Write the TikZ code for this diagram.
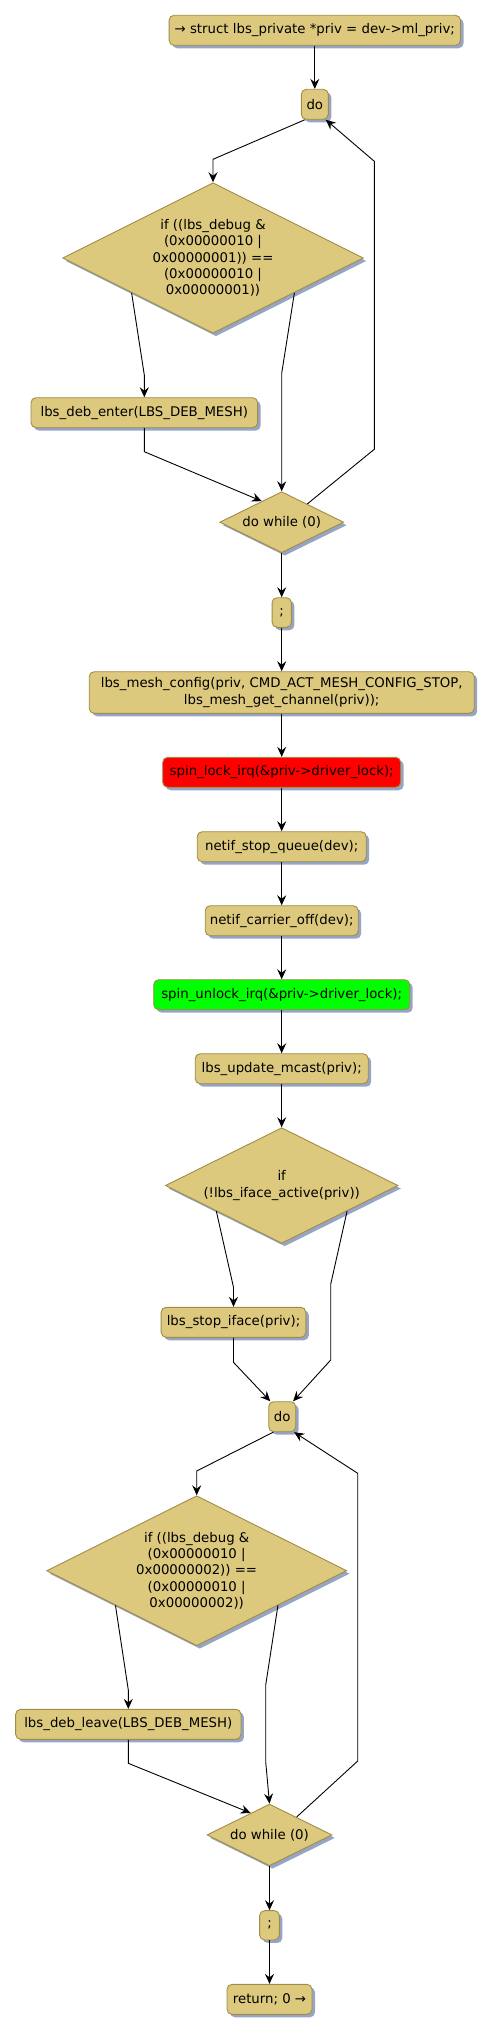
\documentclass[tikz,border=0pt]{standalone}
\usepackage{fontspec}
\setmainfont{DejaVu Sans}
\usetikzlibrary{shapes.geometric,arrows.meta,shadows,calc}
\definecolor{boxfill}{RGB}{220,201,126}
\definecolor{boxline}{RGB}{160,140,72}
\definecolor{shc}{RGB}{150,165,196}
\definecolor{lockred}{RGB}{255,0,0}
\definecolor{lockgreen}{RGB}{0,255,0}
\begin{document}
\begin{tikzpicture}[x=1pt,y=-1pt,
  font=\fontsize{13.3}{16.3}\selectfont,
  shd/.style={drop shadow={shadow xshift=3pt,shadow yshift=-3pt,fill=shc,opacity=1}},
  box/.style={draw=boxline,fill=boxfill,rounded corners=5pt,line width=0.9pt,inner sep=0pt,align=center,shd},
  dia/.style={diamond,aspect=2,draw=boxline,fill=boxfill,line width=0.9pt,inner sep=0pt,align=center,shd},
  flow/.style={-{Stealth[length=10pt,width=9pt,inset=3.5pt]},line width=0.9pt,line join=miter}]
\useasboundingbox (0,0) rectangle (493,2033);

\node[box,minimum width=291.4pt,minimum height=30pt] (top) at (314.8,30.3) {→ struct lbs\_private *priv = dev->ml\_priv;};
\node[box,minimum width=27pt,minimum height=30pt] (do1) at (314.8,104.3) {do};
\node[dia,minimum width=300.6pt,minimum height=150.6pt] (d1) at (213,258) {if ((lbs\_debug \&\\(0x00000010 |\\0x00000001)) ==\\(0x00000010 |\\0x00000001))};
\node[box,minimum width=226.6pt,minimum height=30pt] (enter) at (144.3,412.7) {lbs\_deb\_enter(LBS\_DEB\_MESH)};
\node[dia,minimum width=124pt,minimum height=61pt] (dw1) at (281.7,522.2) {do while (0)};
\node[box,minimum width=19.3pt,minimum height=29.6pt] (semi1) at (281.7,612.5) {;};
\node[box,minimum width=385pt,minimum height=41.6pt] (mesh) at (281.7,692.5) {lbs\_mesh\_config(priv, CMD\_ACT\_MESH\_CONFIG\_STOP,\\lbs\_mesh\_get\_channel(priv));};
\node[box,fill=lockred,minimum width=238pt,minimum height=30pt] (lock) at (281.7,772.3) {spin\_lock\_irq(\&priv->driver\_lock);};
\node[box,minimum width=169pt,minimum height=30pt] (stopq) at (281.7,846.7) {netif\_stop\_queue(dev);};
\node[box,minimum width=153pt,minimum height=30pt] (carrier) at (281.7,920.7) {netif\_carrier\_off(dev);};
\node[box,fill=lockgreen,minimum width=256pt,minimum height=30pt] (unlock) at (281.7,994.7) {spin\_unlock\_irq(\&priv->driver\_lock);};
\node[box,minimum width=173pt,minimum height=30pt] (mcast) at (281.7,1068.7) {lbs\_update\_mcast(priv);};
\node[dia,minimum width=232.6pt,minimum height=115.6pt] (d3) at (281.7,1185.5) {if\\(!lbs\_iface\_active(priv))};
\node[box,minimum width=144.7pt,minimum height=30pt] (stopif) at (233.5,1322.3) {lbs\_stop\_iface(priv);};
\node[box,minimum width=27pt,minimum height=30pt] (do2) at (282.2,1416.7) {do};
\node[dia,minimum width=300pt,minimum height=150pt] (d4) at (196.7,1570.7) {if ((lbs\_debug \&\\(0x00000010 |\\0x00000002)) ==\\(0x00000010 |\\0x00000002))};
\node[box,minimum width=225.3pt,minimum height=30pt] (leave) at (128.3,1724.3) {lbs\_deb\_leave(LBS\_DEB\_MESH)};
\node[dia,minimum width=125pt,minimum height=61.7pt] (dw2) at (269.5,1834.9) {do while (0)};
\node[box,minimum width=19.7pt,minimum height=29.3pt] (semi2) at (269.5,1925.3) {;};
\node[box,minimum width=85pt,minimum height=30pt] (ret) at (269.5,1999.3) {return; 0 →};

% first loop
\draw[flow] (top.south) -- (do1.north);
\draw[flow] ([xshift=4pt]do1.south west) -- (213,159.3) -- (d1.north);
\draw[flow] ($(d1.west)!0.46!(d1.south)$) -- (144.3,375) -- (enter.north);
\draw[flow] ($(d1.east)!0.46!(d1.south)$) -- (281.7,373.3) -- (dw1.north);
\draw[flow] (enter.south) -- (144.3,451.7) -- ($(dw1.north)!0.32!(dw1.west)$);
\draw[flow] ($(dw1.north)!0.41!(dw1.east)$) -- (374.3,449.3) -- (374.3,161.3) -- ([xshift=-3pt]do1.south east);
\draw[flow] (dw1.south) -- (semi1.north);
\draw[flow] (semi1.south) -- (mesh.north);
\draw[flow] (mesh.south) -- (lock.north);
\draw[flow] (lock.south) -- (stopq.north);
\draw[flow] (stopq.south) -- (carrier.north);
\draw[flow] (carrier.south) -- (unlock.north);
\draw[flow] (unlock.south) -- (mcast.north);
\draw[flow] (mcast.south) -- (d3.north);
% if branch
\draw[flow] ($(d3.west)!0.44!(d3.south)$) -- (233.5,1287.3) -- (stopif.north);
\draw[flow] ($(d3.east)!0.44!(d3.south)$) -- (330.7,1284.3) -- (330.7,1360) -- ([xshift=-3pt]do2.north east);
\draw[flow] (stopif.south) -- (233.5,1362.3) -- ([xshift=2pt]do2.north west);
% second loop
\draw[flow] ([xshift=5pt]do2.south west) -- (196.7,1471) -- (d4.north);
\draw[flow] ($(d4.west)!0.46!(d4.south)$) -- (128.3,1690) -- (leave.north);
\draw[flow] ($(d4.east)!0.46!(d4.south)$) -- (265.7,1685) -- (265.7,1761.7) -- (dw2.north);
\draw[flow] (leave.south) -- (128.3,1763.3) -- ($(dw2.north)!0.30!(dw2.west)$);
\draw[flow] ($(dw2.north)!0.43!(dw2.east)$) -- (357.7,1761) -- (357.7,1473.3) -- ([xshift=-2pt]do2.south east);
\draw[flow] (dw2.south) -- (semi2.north);
\draw[flow] (semi2.south) -- (ret.north);
\end{tikzpicture}
\end{document}
